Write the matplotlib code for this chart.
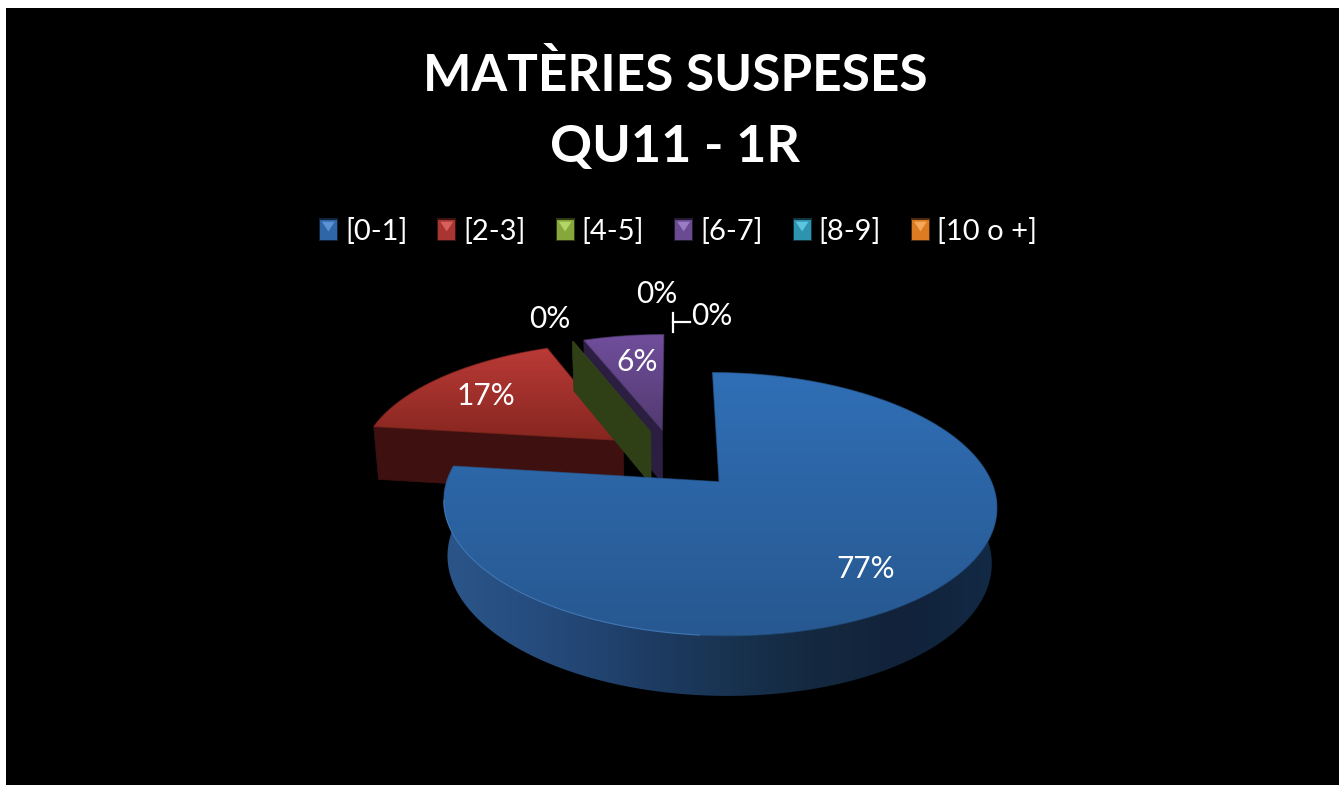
import numpy as np
import matplotlib
matplotlib.use("Agg")
import matplotlib.pyplot as plt
from matplotlib.patches import Polygon, Rectangle, PathPatch
from matplotlib.path import Path
from matplotlib.legend_handler import HandlerBase
from matplotlib.colors import LinearSegmentedColormap

# ---- data -----------------------------------------------------------
categories = ["[0-1]", "[2-3]", "[4-5]", "[6-7]", "[8-9]", "[10 o +]"]
values = [77.0, 17.0, 0.1, 5.9, 0.0, 0.0]
title_lines = ["MATÈRIES SUSPESES", "QU11 - 1R"]

# ---- styles ---------------------------------------------------------
legend_colors = ["#2F66A8", "#A83532", "#86A83A", "#6A4B92", "#2E93AE", "#DC7B22"]
legend_tips = ["#5C93D6", "#D8605C", "#B4D668", "#9A7CC4", "#5CC6E0", "#F6A85A"]
top_grad = {0: ("#306FB6", "#275890"), 1: ("#BA3A37", "#86261F"),
            2: ("#3A4C1A", "#3A4C1A"), 3: ("#704E9C", "#523A70")}
wall_flat = {1: "#3E1110", 2: "#2F3F16", 3: "#2B1E40"}
blue_wall = ["#2B5589", "#264C7D", "#1F3F69", "#193352", "#14293F", "#11223A", "#132A45"]
label_xy = [(866, 569), (486, 396), (550, 319), (637, 362), (657, 294), (712, 316)]

# ---- projection of the tilted disc onto the picture -----------------
X0, Y0, CX, CY, T, EXPLODE = 674.0, 458.5, 264.0, 120.0, 0.165, 0.25
DROP = 54.0


def project(u, v, low=False):
    s = 1.0 / (1.0 - T * v)
    x = CX * u * s
    y = CY * v * s
    if low:
        return X0 + 0.984 * x, Y0 + y + DROP * np.sqrt(s)
    return X0 + x, Y0 + y


def offset(mid):
    a = np.radians(mid)
    return EXPLODE * np.sin(a), -EXPLODE * np.cos(a)


def rim(ou, ov, a0, a1, low=False, n=160):
    th = np.radians(np.linspace(a0, a1, n))
    return project(ou + np.sin(th), ov - np.cos(th), low)


def gradient_fill(ax, xs, ys, colors, zorder, vertical=True, outline=True):
    cmap = LinearSegmentedColormap.from_list("g", colors)
    ramp = np.linspace(0, 1, 256)
    ramp = ramp[:, None] if vertical else ramp[None, :]
    x0, x1, y0, y1 = min(xs), max(xs), min(ys), max(ys)
    im = ax.imshow(ramp, cmap=cmap, extent=(x0, x1, y1, y0), aspect="auto",
                   origin="upper", zorder=zorder, interpolation="bilinear")
    clip = PathPatch(Path(np.column_stack([xs, ys])), transform=ax.transData)
    im.set_clip_path(clip)
    if outline:
        edge = Polygon(np.column_stack([xs, ys]), closed=True, fill=False, lw=0.8,
                       edgecolor=colors[len(colors) // 2], zorder=zorder, alpha=0.6)
        ax.add_patch(edge)


plt.rcParams["font.family"] = ["Lato", "DejaVu Sans"]
fig = plt.figure(figsize=(13.39, 7.85), dpi=100, facecolor="white")
ax = fig.add_axes([6 / 1339, 0, 1333 / 1339, 777 / 785], facecolor="black")
for sp in ax.spines.values():
    sp.set_visible(False)
ax.set_xticks([])
ax.set_yticks([])

# ---- slices ---------------------------------------------------------
total = sum(values)
starts = np.cumsum([0] + values[:-1]) / total * 360
sweeps = np.array(values) / total * 360
order = [1, 3, 2, 0]
for rank, i in enumerate(order):
    if sweeps[i] <= 0:
        continue
    a0, a1 = starts[i], starts[i] + sweeps[i]
    ou, ov = offset(a0 + sweeps[i] / 2)
    z = 2 + rank * 2
    ax_top, ay_top = project(ou, ov)
    ax_low, ay_low = project(ou, ov, True)
    tx, ty = rim(ou, ov, a0, a1)
    if i == 0:
        # outer wall, only the part in front of the viewer
        wtx, wty = rim(ou, ov, a0 + 60, a1)
        bx, by = rim(ou, ov, a0 + 60, a1, True)
        wx = np.r_[wtx, bx[::-1]]
        wy = np.r_[wty, by[::-1]]
        gradient_fill(ax, wx, wy, blue_wall, z, vertical=False, outline=False)
    else:
        bx, by = rim(ou, ov, a0, a1, True)
        wx = [ax_top, tx[0], bx[0], ax_low]
        wy = [ay_top, ty[0], by[0], ay_low]
        ax.add_patch(Polygon(np.column_stack([wx, wy]), closed=True,
                             facecolor=wall_flat[i], edgecolor=wall_flat[i],
                             lw=0.5, zorder=z))
    gradient_fill(ax, np.r_[ax_top, tx], np.r_[ay_top, ty], top_grad[i], z + 1,
                  outline=(i != 2))
    if i == 0:
        hx, hy = rim(ou, ov, 185, 262)
        ax.plot(hx, hy, color="#4C88CC", lw=0.8, alpha=0.7, zorder=z + 1)

# ---- data labels and leader -----------------------------------------
for v, (lx, ly) in zip(values, label_xy):
    ax.text(lx, ly, f"{v:.0f}%", color="white", fontsize=21.5, ha="center",
            va="center", zorder=20)
ax.plot([673, 673], [313, 332], color="white", lw=1.6, zorder=20)
ax.plot([673, 690], [322, 322], color="white", lw=1.6, zorder=20)


# ---- title ----------------------------------------------------------
for line, y, fs in zip(title_lines, (91, 162), (37, 37.5)):
    ax.text(675, y, line, color="white", fontsize=fs, fontweight="bold",
            ha="center", va="baseline", zorder=20)


# ---- legend ---------------------------------------------------------
class Swatch(HandlerBase):
    def create_artists(self, legend, orig, xd, yd, w, h, fs, trans):
        c = orig.get_facecolor()
        tip = orig.get_edgecolor()
        glow = Rectangle((-xd - 0.8, -yd - 0.8), w + 1.6, h + 1.6, facecolor=c,
                         edgecolor="none", alpha=0.35, transform=trans)
        r = Rectangle((-xd, -yd), w, h, facecolor=c, edgecolor="none",
                      transform=trans)
        t = Polygon([(-xd + 0.12 * w, h - 1.5 - yd), (-xd + 0.88 * w, h - 1.5 - yd),
                     (-xd + 0.5 * w, -yd + 0.42 * h)], closed=True,
                    facecolor=tip, edgecolor="none", transform=trans)
        return [glow, r, t]


handles = [Rectangle((0, 0), 1, 1, facecolor=c, edgecolor=t)
           for c, t in zip(legend_colors, legend_tips)]
leg = ax.legend(handles, categories, handler_map={Rectangle: Swatch()}, ncol=6,
                loc="center", bbox_to_anchor=(678.5, 231.5), bbox_transform=ax.transData,
                frameon=False, fontsize=21, labelcolor="white", handlelength=0.58,
                handletextpad=0.28, columnspacing=1.06, borderpad=0)
leg.set_zorder(20)

ax.set_xlim(6, 1339)
ax.set_ylim(785, 8)
fig.savefig("out.png", dpi=100, facecolor="white")
